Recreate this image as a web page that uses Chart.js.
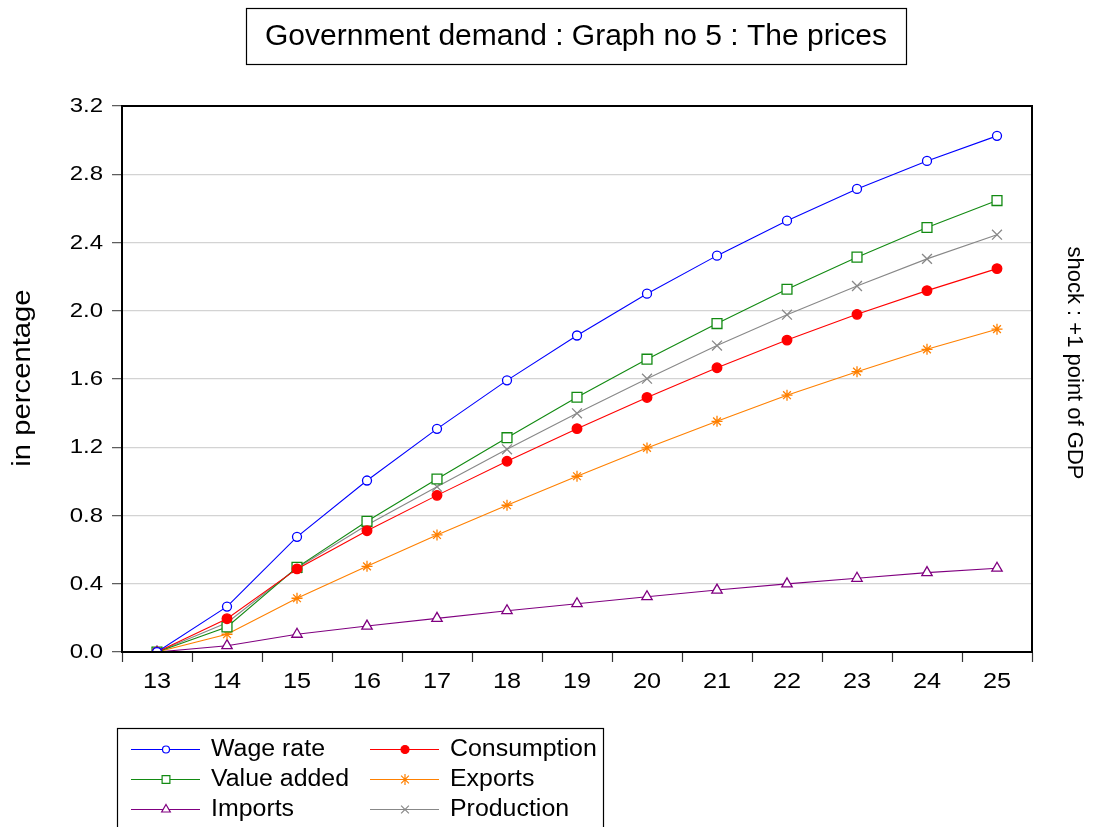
<!DOCTYPE html>
<html>
<head>
<meta charset="utf-8">
<script src="https://cdn.jsdelivr.net/npm/chart.js@4/dist/chart.umd.min.js"></script>
<style>
html,body{margin:0;padding:0;background:#fff;}
#wrap{width:1094px;height:827px;position:relative;}
</style>
</head>
<body>
<div id="wrap"><canvas id="c" width="1094" height="827"></canvas></div>
<script>
const categories = ['13','14','15','16','17','18','19','20','21','22','23','24','25'];
const wageRate    = [0.00,0.266,0.675,1.005,1.308,1.592,1.855,2.100,2.323,2.528,2.714,2.878,3.025];
const consumption = [0.00,0.195,0.487,0.711,0.918,1.118,1.309,1.492,1.666,1.828,1.979,2.118,2.247];
const valueAdded  = [0.00,0.147,0.496,0.766,1.014,1.256,1.493,1.716,1.925,2.126,2.314,2.488,2.646];
const exportsS    = [0.00,0.104,0.315,0.502,0.686,0.860,1.030,1.196,1.352,1.505,1.643,1.774,1.892];
const importsS    = [0.00,0.037,0.104,0.152,0.197,0.242,0.283,0.324,0.363,0.399,0.432,0.465,0.491];
const production  = [0.00,0.172,0.492,0.744,0.969,1.188,1.399,1.602,1.796,1.977,2.145,2.304,2.446];
const yTickLabels = ['0.0','0.4','0.8','1.2','1.6','2.0','2.4','2.8','3.2'];
const chartTitle = 'Government demand : Graph no 5 : The prices';
const yTitle = 'in percentage';
const rightTitle = 'shock : +1 point of GDP';

const FONT = '"Liberation Sans", Arial, Helvetica, sans-serif';

function ds(label, data, color, style, radius, fill, legendR){
  return {label, data, borderColor: color, backgroundColor: fill, pointStyle: style,
    pointRadius: radius, pointHoverRadius: radius, pointBorderColor: color, pointBackgroundColor: fill,
    pointBorderWidth: 1.3, borderWidth: 1.1, tension: 0, fill: false, legendR};
}
const datasets = [
  ds('Wage rate', wageRate, '#0000FF', 'circle', 4.5, '#FFFFFF', 3.5),
  ds('Consumption', consumption, '#FF0000', 'circle', 4.8, '#FF0000', 4),
  ds('Value added', valueAdded, '#128A12', 'rect', 7, '#FFFFFF', 5.5),
  ds('Exports', exportsS, '#FF8000', 'star', 5.5, '#FF8000', 5.5),
  ds('Imports', importsS, '#800080', 'triangle', 6, '#FFFFFF', 5),
  ds('Production', production, '#888888', 'crossRot', 7, '#888888', 5.5),
];

function stretchText(ctx, text, x, y, size, sx, align){
  ctx.save();
  ctx.font = size + 'px ' + FONT;
  ctx.textBaseline = 'middle';
  ctx.textAlign = align;
  ctx.translate(x, y);
  ctx.scale(sx, 1);
  ctx.fillText(text, 0, 0);
  ctx.restore();
}

const decor = {
  id: 'decor',
  afterDraw(chart){
    const ctx = chart.ctx, a = chart.chartArea;
    const xs = chart.scales.x, ys = chart.scales.y;
    ctx.save();
    // frame
    ctx.strokeStyle = '#000'; ctx.lineWidth = 2;
    ctx.strokeRect(a.left, a.top, a.right - a.left, a.bottom - a.top);
    ctx.fillStyle = '#000';
    // tick labels
    ys.ticks.forEach((t, i) => {
      stretchText(ctx, yTickLabels[i], 103, ys.getPixelForValue(t.value) + 0.5, 20.5, 1.17, 'right');
    });
    categories.forEach((c, i) => {
      stretchText(ctx, c, xs.getPixelForValue(i), 682, 22, 1.15, 'center');
    });
    // title box
    ctx.lineWidth = 1.2;
    ctx.strokeStyle = '#000';
    ctx.strokeRect(246.5, 8.5, 660, 56);
    ctx.font = '30px ' + FONT;
    ctx.textAlign = 'center'; ctx.textBaseline = 'middle';
    ctx.fillText(chartTitle, 576, 37);
    // y title
    ctx.save(); ctx.translate(23, 378); ctx.rotate(-Math.PI/2);
    stretchText(ctx, yTitle, 0, 0, 25, 1.17, 'center');
    ctx.restore();
    // right title
    ctx.save(); ctx.translate(1074, 363); ctx.rotate(Math.PI/2);
    ctx.font = '22px ' + FONT;
    ctx.textAlign = 'center'; ctx.textBaseline = 'middle';
    ctx.fillText(rightTitle, 0, 0); ctx.restore();
    // legend
    ctx.lineWidth = 1.2; ctx.strokeStyle = '#000';
    ctx.strokeRect(117.5, 728.5, 486, 120);
    const cols = [131, 370], rows = [749, 779, 809];
    chart.data.datasets.forEach((d, k) => {
      const x0 = cols[k % 2], y = rows[Math.floor(k / 2)];
      ctx.strokeStyle = d.borderColor; ctx.lineWidth = 1.1;
      ctx.beginPath(); ctx.moveTo(x0, y + 0.5); ctx.lineTo(x0 + 69, y + 0.5); ctx.stroke();
      ctx.fillStyle = d.pointBackgroundColor; ctx.strokeStyle = d.pointBorderColor; ctx.lineWidth = 1.2;
      Chart.helpers.drawPoint(ctx, {pointStyle: d.pointStyle, radius: d.legendR, rotation: 0, borderWidth: 1.2}, x0 + 35, y + 0.5);
      ctx.fillStyle = '#000';
      stretchText(ctx, d.label, x0 + 80, y + 1, 23.5, 1.06, 'left');
    });
    ctx.restore();
  }
};

Chart.defaults.font.family = FONT;
const chart = new Chart(document.getElementById('c'), {
  type: 'line',
  data: { labels: categories, datasets },
  options: {
    responsive: false, animation: false, devicePixelRatio: 1,
    layout: { padding: { left: 0, top: 106, right: 62, bottom: 0 } },
    plugins: { legend: { display: false }, title: { display: false }, tooltip: { enabled: false } },
    scales: {
      x: {
        type: 'category', offset: true,
        grid: { offset: true, drawOnChartArea: false, drawTicks: true, tickLength: 10, tickColor: '#333', tickWidth: 1.2 },
        border: { display: true, color: '#000', width: 2 },
        ticks: { color: 'rgba(0,0,0,0)', font: { size: 21 }, padding: 6, maxRotation: 0, autoSkip: false },
        afterFit(s){ s.height = 175; }
      },
      y: {
        min: 0, max: 3.2,
        grid: { color: (c) => (c.index === 0 || c.index === 8) ? 'rgba(0,0,0,0)' : '#D3D3D3', lineWidth: 1.3,
                drawTicks: true, tickLength: 10, tickColor: '#555', tickWidth: 1.2 },
        border: { display: true, color: '#000', width: 2 },
        ticks: { stepSize: 0.4, color: 'rgba(0,0,0,0)', font: { size: 21 }, padding: 10,
                 callback: (v, i) => yTickLabels[i] },
        afterFit(s){ s.width = 122; }
      }
    }
  },
  plugins: [decor]
});
</script>
</body>
</html>
